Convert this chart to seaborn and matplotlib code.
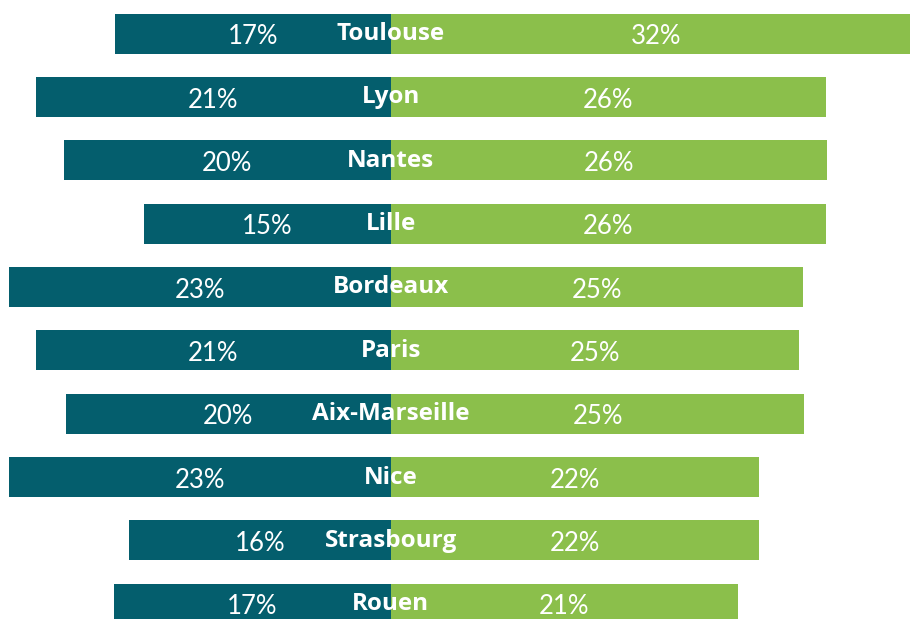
import matplotlib.pyplot as plt
import pandas as pd
import seaborn as sns

cities = ['Toulouse', 'Lyon', 'Nantes', 'Lille', 'Bordeaux', 'Paris',
          'Aix-Marseille', 'Nice', 'Strasbourg', 'Rouen']
left_pct = [16.6, 21.4, 19.7, 14.9, 23.0, 21.4, 19.6, 23.0, 15.8, 16.7]
right_pct = [32.0, 26.2, 26.3, 26.2, 24.8, 24.6, 24.9, 22.2, 22.2, 20.9]

TEAL = '#045e6d'
GREEN = '#8bbf4b'


def main():
    df = pd.DataFrame({'city': cities, 'left': left_pct, 'right': right_pct})
    df['left_neg'] = -df['left']

    sns.set_style('white')
    plt.rcParams['font.family'] = ['Lato', 'DejaVu Sans']

    fig = plt.figure(figsize=(9.1, 6.19), dpi=100)
    ax = fig.add_axes([0, 0, 1, 1])

    sns.barplot(x='left_neg', y='city', data=df, orient='h', color=TEAL,
                saturation=1, width=0.63, linewidth=0, ax=ax)
    sns.barplot(x='right', y='city', data=df, orient='h', color=GREEN,
                saturation=1, width=0.63, linewidth=0, ax=ax)

    for i, row in df.iterrows():
        ax.text(-row['left'] / 2, i + 0.05, f"{row['left']:.0f}%", color='white',
                ha='center', va='center', fontsize=18.5, zorder=5)
        ax.text(row['right'] / 2, i + 0.05, f"{row['right']:.0f}%", color='white',
                ha='center', va='center', fontsize=18.5, zorder=5)
        ax.text(0, i - 0.04, row['city'], color='white', ha='center',
                va='center_baseline', fontsize=17.5, fontweight='bold',
                family=['Open Sans', 'DejaVu Sans'], zorder=6)

    ax.set_xlim(-23.55, 31.27)
    ax.set_ylim(9.24, -0.53)
    ax.axis('off')

    plt.savefig('out.png', dpi=100)
    plt.close(fig)


if __name__ == '__main__':
    main()
